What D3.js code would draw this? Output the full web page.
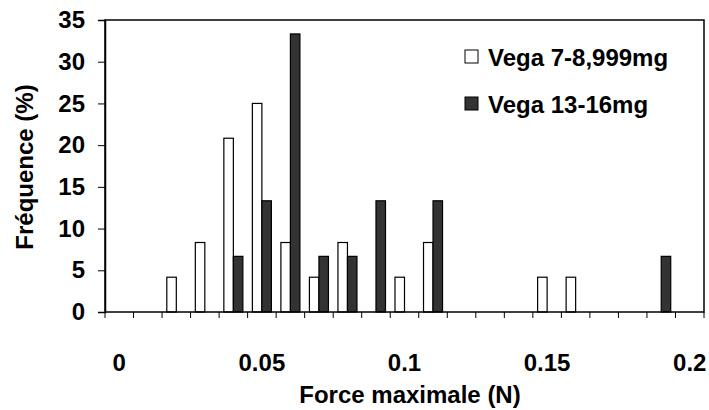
<!DOCTYPE html>
<html>
<head>
<meta charset="utf-8">
<script src="https://cdn.jsdelivr.net/npm/d3@7"></script>
<style>
	body { margin: 0; background: #fff; }
	text { font-family: "Liberation Sans", Arial, sans-serif; font-weight: bold; fill: #000; }
</style>
</head>
<body>
<svg width="709" height="410"></svg>
<script>
//	DATA
var categories = ["0", "0.01", "0.02", "0.03", "0.04", "0.05", "0.06", "0.07", "0.08", "0.09", "0.1",
		"0.11", "0.12", "0.13", "0.14", "0.15", "0.16", "0.17", "0.18", "0.19", "0.2"],
	vega7 = [0, 0, 4.17, 8.33, 20.83, 25, 8.33, 4.17, 8.33, 0, 4.17, 8.33, 0, 0, 0, 4.17, 4.17, 0, 0, 0, 0],
	vega13 = [0, 0, 0, 0, 6.67, 13.33, 33.33, 6.67, 6.67, 13.33, 0, 13.33, 0, 0, 0, 0, 0, 0, 0, 6.67, 0],
	yTicks = [0, 5, 10, 15, 20, 25, 30, 35],
	xLabels = ["0", "0.05", "0.1", "0.15", "0.2"],
	seriesNames = ["Vega 7-8,999mg", "Vega 13-16mg"],
	seriesColors = ["#ffffff", "#333333"];

var svg = d3.select("svg"),
	fontSize = "24px",
	pLeft = 105, pRight = 704, pTop = 20, pBottom = 312;	// area del grafico

var x = d3.scaleBand().domain(categories).range([pLeft, pRight]),
	// due barre per categoria, con un gap pari alla larghezza di una barra
	x1 = d3.scaleBand().domain([0, 1]).range([x.bandwidth() / 6, x.bandwidth() * 5 / 6]),
	y = d3.scaleLinear().domain([0, 35]).range([pBottom, pTop]);

// barre (solo quelle con valore > 0)
[vega7, vega13].forEach(function(values, s) {
	var bars = values.map(function(v, i) { return {cat: categories[i], v: v}; })
		.filter(function(d) { return d.v > 0; });
	svg.append("g").selectAll("rect").data(bars).enter().append("rect")
		.attr("x", function(d) { return x(d.cat) + x1(s); })
		.attr("y", function(d) { return y(d.v); })
		.attr("width", x1.bandwidth())
		.attr("height", function(d) { return pBottom - y(d.v); })
		.attr("fill", seriesColors[s])
		.attr("stroke", "#000")
		.attr("stroke-width", 1.2);
});

// bordo dell'area del grafico
svg.append("rect")
	.attr("x", pLeft).attr("y", pTop)
	.attr("width", pRight - pLeft).attr("height", pBottom - pTop)
	.attr("fill", "none").attr("stroke", "#000").attr("stroke-width", 1.5);

// asse y
var yAxis = svg.append("g")
	.attr("transform", "translate(" + pLeft + ",0)")
	.call(d3.axisLeft(y).tickValues(yTicks).tickSize(7).tickPadding(13));
yAxis.select(".domain").attr("stroke-width", 1.5);
yAxis.selectAll("text").style("font-size", fontSize);

// asse x: tacche ai bordi delle categorie
var xEdges = categories.map(function(c) { return x(c); }).concat([pRight]);
svg.append("g").selectAll("line").data(xEdges).enter().append("line")
	.attr("x1", function(d) { return d; }).attr("x2", function(d) { return d; })
	.attr("y1", pBottom).attr("y2", pBottom + 6)
	.attr("stroke", "#000");

svg.append("g").selectAll("text").data(xLabels).enter().append("text")
	.attr("x", function(d) { return x(d) + x.bandwidth() / 2; })
	.attr("y", 371)
	.attr("text-anchor", "middle")
	.style("font-size", fontSize)
	.text(function(d) { return d; });

// titoli degli assi
svg.append("text")
	.attr("x", 410).attr("y", 403)
	.attr("text-anchor", "middle")
	.style("font-size", fontSize)
	.text("Force maximale (N)");

svg.append("text")
	.attr("transform", "translate(33,167) rotate(-90)")
	.attr("text-anchor", "middle")
	.style("font-size", fontSize)
	.text("Fréquence (%)");

// legenda
var legend = svg.append("g").selectAll("g").data(seriesNames).enter().append("g")
	.attr("transform", function(d, i) { return "translate(465," + (50 + i * 47) + ")"; });
legend.append("rect")
	.attr("width", 13).attr("height", 13)
	.attr("fill", function(d, i) { return seriesColors[i]; })
	.attr("stroke", "#000");
legend.append("text")
	.attr("x", 23).attr("y", 16)
	.style("font-size", fontSize)
	.text(function(d) { return d; });
</script>
</body>
</html>
